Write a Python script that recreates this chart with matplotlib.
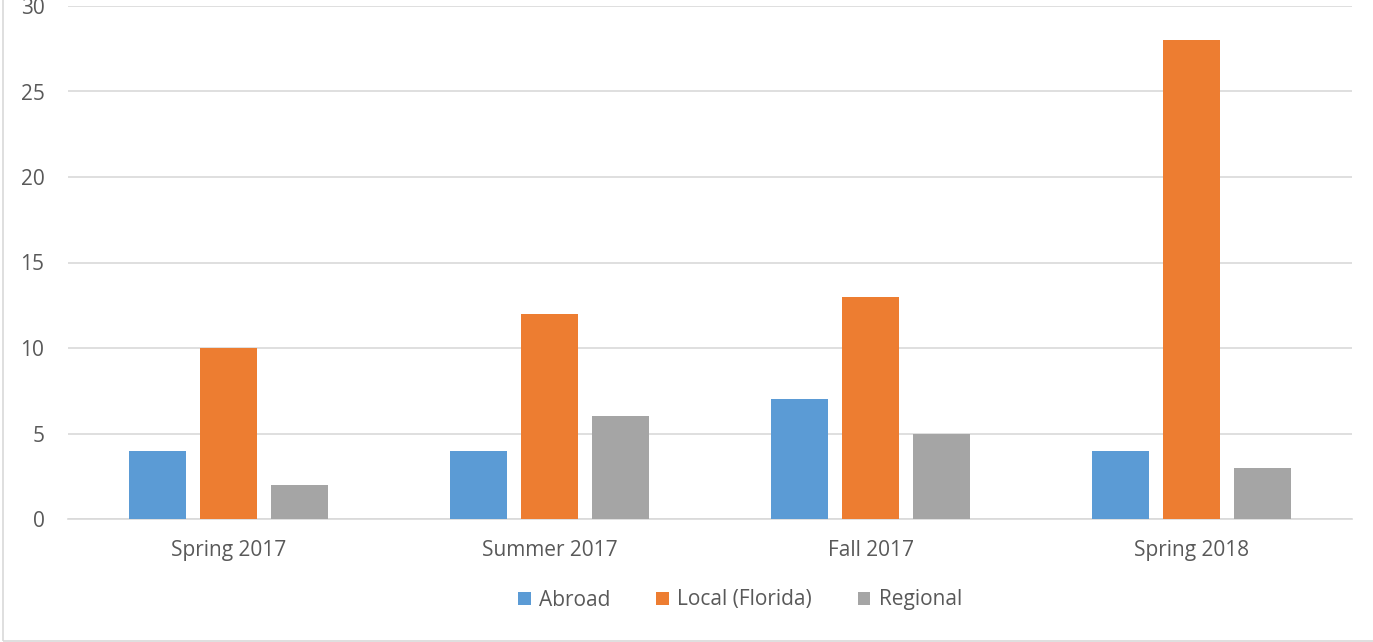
import numpy as np
import matplotlib.pyplot as plt
import matplotlib.patches as mpatches

plt.rcParams['font.family'] = ['Open Sans', 'DejaVu Sans']

categories = ['Spring 2017', 'Summer 2017', 'Fall 2017', 'Spring 2018']
abroad = [4, 4, 7, 4]
local = [10, 12, 13, 28]
regional = [2, 6, 5, 3]

series = [('Abroad', abroad, '#5b9bd5'),
          ('Local (Florida)', local, '#ed7d31'),
          ('Regional', regional, '#a5a5a5')]

fig = plt.figure(figsize=(13.73, 6.42), dpi=100)
ax = fig.add_axes([68 / 1373, 1 - 519 / 642, (1352 - 68) / 1373, (519 - 6) / 642])

x = np.arange(len(categories))
width = 0.175
step = 0.221
for k, (name, vals, col) in enumerate(series):
    ax.bar(x + (k - 1) * step, vals, width, color=col, label=name, zorder=3)

ax.set_xlim(-0.5, len(categories) - 0.5)
ax.set_ylim(0, 30)
ax.set_yticks(range(0, 31, 5))
ax.set_xticks(x)
ax.set_xticklabels(categories)
ax.grid(axis='y', color='#d9d9d9', linewidth=1.2, zorder=0)
for s in ['top', 'right', 'left']:
    ax.spines[s].set_visible(False)
ax.spines['bottom'].set_color('#d9d9d9')
ax.spines['bottom'].set_linewidth(1.2)
ax.tick_params(axis='both', length=0, colors='#595959', labelsize=15)
ax.tick_params(axis='x', pad=15)
ax.tick_params(axis='y', pad=17)

fig.legend(loc='center', bbox_to_anchor=(740 / 1373, 1 - 600 / 642), ncol=3,
           frameon=False, fontsize=15, labelcolor='#595959',
           handlelength=0.6, handleheight=0.6, handletextpad=0.4, columnspacing=2.2)

# outer chart border (only left and bottom edges visible in the crop)
fig.patches.append(mpatches.Rectangle((3 / 1373, 1 / 642), 2, 2, transform=fig.transFigure,
                                      fill=False, edgecolor='#d9d9d9', linewidth=1.2))

fig.savefig('out.png', dpi=100)
